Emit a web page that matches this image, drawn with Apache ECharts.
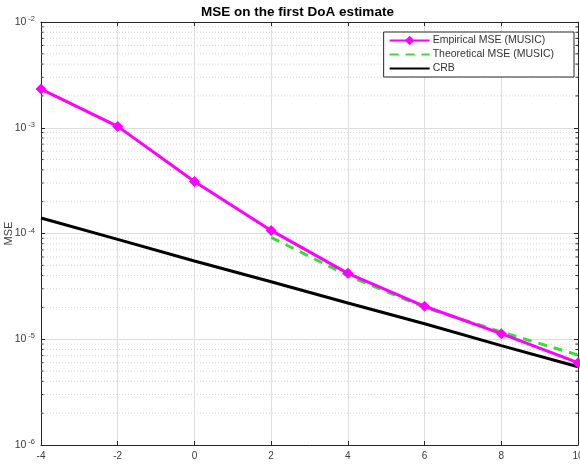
<!DOCTYPE html>
<html><head><meta charset="utf-8">
<script src="https://cdn.jsdelivr.net/npm/echarts@6/dist/echarts.min.js"></script>
<style>html,body{margin:0;padding:0;background:#fff}#c{width:580px;height:467px}</style>
</head><body><div id="c"></div>
<script>
const snr = [-4, -2, 0, 2, 4, 6, 8, 10];
const empirical = [2.32e-3, 1.03e-3, 3.1e-4, 1.07e-4, 4.2e-5, 2.05e-5, 1.13e-5, 6.0e-6];
const theorySnr = [2, 4, 6, 8, 10];
const theoretical = [9.2e-5, 4.0e-5, 2.0e-5, 1.17e-5, 7.1e-6];
const crb = [1.40e-4, 8.8e-5, 5.5e-5, 3.5e-5, 2.2e-5, 1.4e-5, 8.7e-6, 5.5e-6];
const xTicks = [-4, -2, 0, 2, 4, 6, 8, 10];
const yTickExps = ['-6', '-5', '-4', '-3', '-2'];
const minorMantissas = [2, 3, 4, 5, 6, 7, 8, 9];
const decades = [1e-6, 1e-5, 1e-4, 1e-3];

const minorVals = [];
decades.forEach(d => minorMantissas.forEach(m => minorVals.push([-4, m * d])));

const axisCol = '#262626';
const labCol = '#3a3a3a';
const chart = echarts.init(document.getElementById('c'));
chart.setOption({
  animation: false,
  backgroundColor: '#fff',
  textStyle: { fontFamily: 'Liberation Sans, Arial, sans-serif' },
  title: {
    text: 'MSE on the first DoA estimate',
    left: 292.5, top: 0, textAlign: 'center',
    textStyle: { fontSize: 13.5, fontWeight: 'bold', color: '#000' }
  },
  legend: {
    orient: 'vertical', right: 6, top: 32,
    backgroundColor: '#fff', borderColor: axisCol, borderWidth: 1,
    padding: [3, 20, 3, 5], itemGap: 3, itemWidth: 40, itemHeight: 12,
    textStyle: { fontSize: 10.5, color: '#333', padding: [0, 0, 0, -2] },
    data: [
      { name: 'Empirical MSE (MUSIC)' },
      { name: 'Theoretical MSE (MUSIC)', itemStyle: { opacity: 0 } },
      { name: 'CRB', itemStyle: { opacity: 0 } }
    ]
  },
  grid: { left: 41, right: 2, top: 22, bottom: 22, containLabel: false, outerBoundsMode: 'none' },
  xAxis: [{
    type: 'value', min: -4, max: 10, interval: 2,
    name: 'SNR (dB)', nameLocation: 'middle', nameGap: 24, nameMoveOverlap: false,
    nameTextStyle: { fontSize: 11, color: axisCol },
    axisLine: { onZero: false, lineStyle: { color: axisCol, width: 1 } },
    axisTick: { inside: true, length: 4, lineStyle: { color: axisCol } },
    axisLabel: { fontSize: 10, color: labCol, margin: 6 },
    splitLine: { show: true, lineStyle: { color: '#dedede', width: 1 } }
  }, {
    type: 'value', min: -4, max: 10, interval: 2, position: 'top',
    axisLine: { onZero: false, lineStyle: { color: axisCol, width: 1 } },
    axisTick: { inside: true, length: 4, lineStyle: { color: axisCol } },
    axisLabel: { show: false }, splitLine: { show: false }
  }],
  yAxis: [{
    type: 'log', logBase: 10, min: 1e-6, max: 1e-2,
    name: 'MSE', nameLocation: 'middle', nameGap: 27, nameMoveOverlap: false,
    nameTextStyle: { fontSize: 11, color: labCol },
    axisLine: { onZero: false, lineStyle: { color: axisCol, width: 1 } },
    axisTick: { inside: true, length: 4, lineStyle: { color: axisCol } },
    axisLabel: {
      color: labCol, margin: 6,
      formatter: function (v) {
        const e = Math.round(Math.log10(v));
        return '{b|10}{s|' + e + '}';
      },
      rich: {
        b: { fontSize: 10.5, color: labCol, fontFamily: 'Liberation Sans, Arial, sans-serif' },
        s: { fontSize: 7.5, color: labCol, verticalAlign: 'top', padding: [0, 0, 6, 2], fontFamily: 'Liberation Sans, Arial, sans-serif' }
      }
    },
    splitLine: { show: true, lineStyle: { color: '#dedede', width: 1 } }
  }, {
    type: 'log', logBase: 10, min: 1e-6, max: 1e-2, position: 'right',
    axisLine: { onZero: false, lineStyle: { color: axisCol, width: 1 } },
    axisTick: { inside: true, length: 4, lineStyle: { color: axisCol } },
    axisLabel: { show: false }, splitLine: { show: false }
  }],
  series: [
    {
      type: 'custom', name: 'minor', silent: true, z: 1,
      xAxisIndex: 0, yAxisIndex: 0,
      data: minorVals,
      renderItem: function (params, api) {
        const p0 = api.coord([-4, api.value(1)]);
        const p1 = api.coord([10, api.value(1)]);
        return {
          type: 'group', children: [
            { type: 'line', shape: { x1: p0[0], y1: p0[1], x2: p1[0], y2: p1[1] },
              style: { stroke: '#d4d4d4', lineWidth: 1, lineDash: [1, 2] } },
            { type: 'line', shape: { x1: p0[0], y1: p0[1], x2: p0[0] + 2.5, y2: p0[1] },
              style: { stroke: axisCol, lineWidth: 1 } },
            { type: 'line', shape: { x1: p1[0], y1: p1[1], x2: p1[0] - 2.5, y2: p1[1] },
              style: { stroke: axisCol, lineWidth: 1 } }
          ]
        };
      }
    },
    {
      name: 'Empirical MSE (MUSIC)', type: 'line', z: 4,
      data: snr.map((x, i) => [x, empirical[i]]),
      symbol: 'diamond', symbolSize: 11,
      itemStyle: { color: '#ff00ff' },
      lineStyle: { color: '#ff00ff', width: 3 }
    },
    {
      name: 'Theoretical MSE (MUSIC)', type: 'line', z: 3,
      data: theorySnr.map((x, i) => [x, theoretical[i]]),
      symbol: 'none',
      itemStyle: { color: '#33e033' },
      lineStyle: { color: '#33e033', width: 3, type: [9, 7] }
    },
    {
      name: 'CRB', type: 'line', z: 3,
      data: snr.map((x, i) => [x, crb[i]]),
      symbol: 'none',
      itemStyle: { color: '#000' },
      lineStyle: { color: '#000', width: 3 }
    }
  ]
});
</script></body></html>
